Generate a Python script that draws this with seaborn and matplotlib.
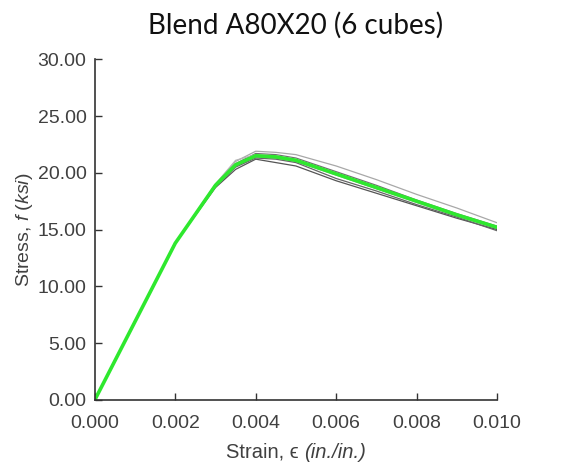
import matplotlib
matplotlib.use("Agg")
import matplotlib.pyplot as plt
import seaborn as sns
import pandas as pd
from matplotlib.offsetbox import TextArea, HPacker, AnnotationBbox

sns.set_theme(style="ticks")
plt.rcParams["font.family"] = ["Liberation Sans", "DejaVu Sans"]
plt.rcParams["mathtext.fontset"] = "custom"
plt.rcParams["mathtext.it"] = "Liberation Sans:italic"
plt.rcParams["mathtext.rm"] = "Liberation Sans"

strain = [0.0, 0.001, 0.002, 0.003, 0.0035, 0.004, 0.0045, 0.005, 0.006, 0.007, 0.008, 0.009, 0.010]

cube_1 = [0.0, 6.9, 13.8, 19.0, 21.0, 21.9, 21.8, 21.6, 20.6, 19.4, 18.1, 16.9, 15.6]
cube_2 = [0.0, 6.9, 13.8, 18.9, 20.8, 21.7, 21.6, 21.3, 20.1, 18.9, 17.6, 16.4, 15.3]
cube_3 = [0.0, 6.9, 13.8, 18.8, 20.6, 21.4, 21.3, 21.0, 19.8, 18.6, 17.4, 16.2, 15.1]
cube_4 = [0.0, 6.9, 13.8, 18.7, 20.3, 21.2, 20.9, 20.6, 19.3, 18.2, 17.1, 16.0, 15.0]
cube_5 = [0.0, 6.9, 13.8, 19.0, 21.1, 21.6, 21.5, 21.2, 19.9, 18.7, 17.5, 16.3, 15.2]
cube_6 = [0.0, 6.9, 13.8, 18.8, 20.5, 21.3, 21.2, 20.9, 19.5, 18.4, 17.2, 16.1, 14.9]
mean_curve = [0.0, 6.9, 13.8, 18.9, 20.7, 21.5, 21.4, 21.1, 19.9, 18.7, 17.5, 16.3, 15.2]

cubes = [cube_1, cube_2, cube_3, cube_4, cube_5, cube_6]
greys = ["#a8a8a8", "#707070", "#909090", "#555555", "#b5b5b5", "#656565"]

fig = plt.figure(figsize=(5.78, 4.70), dpi=100)
ax = fig.add_axes([0.164, 0.149, 0.696, 0.725])

for c, col in zip(cubes, greys):
    df = pd.DataFrame({"strain": strain, "stress": c})
    sns.lineplot(data=df, x="strain", y="stress", ax=ax, color=col, lw=0.9,
                 estimator=None, sort=False)

dfm = pd.DataFrame({"strain": strain, "stress": mean_curve})
sns.lineplot(data=dfm, x="strain", y="stress", ax=ax, color="#2ee82e", lw=2.6,
             estimator=None, sort=False)

ax.set_xlim(0, 0.010)
ax.set_ylim(0, 30)
ax.set_xticks([0.0, 0.002, 0.004, 0.006, 0.008, 0.010])
ax.set_xticklabels(["0.000", "0.002", "0.004", "0.006", "0.008", "0.010"])
ax.set_yticks([0, 5, 10, 15, 20, 25, 30])
ax.set_yticklabels(["0.00", "5.00", "10.00", "15.00", "20.00", "25.00", "30.00"])

for s in ["top", "right"]:
    ax.spines[s].set_visible(False)
for s in ["left", "bottom"]:
    ax.spines[s].set_color("#333333")
    ax.spines[s].set_linewidth(1.2)

ax.tick_params(axis="both", direction="in", length=5, width=1, color="#333333",
               labelsize=14, labelcolor="#404040")
ax.tick_params(axis="x", pad=11)
ax.tick_params(axis="y", pad=6)

# x label: upright "Strain, ϵ" followed by italic units, on a shared baseline
ax.set_xlabel("")
label_color = "#404040"
part1 = TextArea("Strain, \u03f5 ", textprops=dict(fontsize=14.5, color=label_color,
                                                  family=["Liberation Sans", "DejaVu Sans"]))
part2 = TextArea("(in./in.)", textprops=dict(fontsize=14.5, color=label_color,
                                             style="italic", family=["Liberation Sans"]))
xlab = HPacker(children=[part1, part2], align="baseline", pad=0, sep=0)
ab = AnnotationBbox(xlab, (0.5, -0.153), xycoords="axes fraction",
                    box_alignment=(0.5, 0.5), frameon=False)
ax.add_artist(ab)

ax.set_ylabel(r"Stress, $\mathit{f}$ $\mathit{(ksi)}$", fontsize=14,
              color=label_color, labelpad=2)
ax.set_title("Blend A80X20 (6 cubes)", fontsize=20, family=["Lato", "DejaVu Sans"],
             color="#111111", pad=18)

fig.savefig("out.png", dpi=100)
